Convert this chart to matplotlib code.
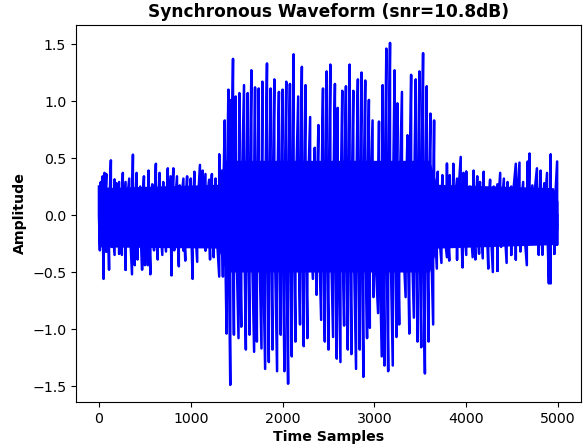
import numpy as np
import matplotlib
matplotlib.use("Agg")
import matplotlib.pyplot as plt

# positive peaks
top_x = [0, 20, 40, 60, 80, 100, 130, 170, 190, 220, 260, 290, 330, 370, 410, 450, 490, 540, 580, 620,
         660, 700, 750, 780, 810, 850, 880, 920, 960, 1000, 1040, 1100, 1130, 1160, 1200, 1230, 1270, 1310, 1340, 1370,
         1410, 1440, 1460, 1490, 1530, 1580, 1620, 1660, 1700, 1740, 1780, 1830, 1870, 1910, 1960, 2000, 2040, 2080, 2120, 2170,
         2210, 2250, 2300, 2350, 2390, 2440, 2480, 2520, 2570, 2600, 2650, 2690, 2730, 2770, 2820, 2860, 2900, 2940, 2980, 3050,
         3090, 3130, 3170, 3220, 3250, 3300, 3360, 3400, 3450, 3490, 3530, 3570, 3610, 3650, 3690, 3740, 3790, 3820, 3860, 3900,
         3940, 3970, 4000, 4040, 4080, 4120, 4150, 4190, 4220, 4260, 4300, 4340, 4370, 4410, 4450, 4490, 4540, 4580, 4620, 4670,
         4690, 4720, 4770, 4810, 4850, 4880, 4920, 4960, 4990]
top_y = [.25, .29, .34, .37, .36, .23, .48, .31, .28, .29, .37, .29, .32, .53, .37, .25, .34, .39, .27, .45,
         .37, .29, .41, .34, .41, .34, .26, .32, .34, .32, .38, .44, .39, .36, .31, .36, .32, .53, .39, .83,
         1.10, 1.01, 1.37, 1.04, 1.07, 1.14, 1.07, 1.27, 1.12, 1.11, 1.17, 1.33, 1.11, 1.19, 1.08, 1.10, 1.17, 1.15, 1.41, 1.04,
         1.30, 1.14, .86, .59, .79, 1.11, 1.26, 1.32, 1.15, .94, 1.09, 1.13, 1.32, 1.09, 1.19, 1.25, 1.18, 1.01, .83, .82,
         1.14, 1.46, 1.51, 1.27, .98, 1.08, .70, 1.23, 1.19, 1.26, 1.42, 1.13, .89, .83, .38, .35, .45, .35, .45, .32,
         .51, .37, .38, .25, .39, .34, .29, .38, .22, .31, .25, .27, .37, .32, .29, .25, .45, .46, .29, .47,
         .54, .26, .41, .39, .28, .37, .53, .18, .47]

# negative peaks
bot_x = [10, 50, 80, 110, 140, 170, 220, 250, 290, 330, 360, 390, 420, 470, 500, 530, 560, 600, 640, 690,
         730, 790, 820, 870, 920, 940, 980, 1020, 1070, 1110, 1160, 1210, 1250, 1310, 1350, 1390, 1430, 1470, 1520, 1550,
         1600, 1640, 1690, 1720, 1770, 1810, 1850, 1890, 1940, 1980, 2020, 2060, 2100, 2140, 2190, 2230, 2270, 2330, 2370, 2420,
         2460, 2500, 2550, 2590, 2630, 2670, 2710, 2750, 2800, 2840, 2880, 2920, 2950, 2990, 3040, 3080, 3110, 3150, 3200, 3240,
         3270, 3340, 3380, 3430, 3470, 3510, 3550, 3590, 3640, 3680, 3730, 3790, 3815, 3850, 3900, 3960, 4000, 4070, 4100, 4140,
         4180, 4240, 4290, 4340, 4380, 4440, 4490, 4540, 4590, 4660, 4720, 4790, 4830, 4900, 4920, 4960, 4990]
bot_y = [-.31, -.56, -.32, -.48, -.28, -.35, -.34, -.35, -.48, -.22, -.52, -.44, -.39, -.48, -.44, -.44, -.52, -.31, -.39, -.35,
         -.32, -.53, -.31, -.45, -.31, -.40, -.26, -.56, -.41, -.28, -.31, -.39, -.37, -.54, -.54, -1.04, -1.49, -1.05, -1.08, -.98,
         -1.18, -1.05, -1.20, -1.11, -1.17, -1.35, -1.29, -1.18, -1.37, -1.05, -1.37, -1.48, -1.24, -1.11, -.96, -1.15, -1.08, -.56, -.70, -.92,
         -1.11, -1.18, -1.07, -1.26, -1.29, -.97, -1.18, -1.22, -1.35, -1.18, -1.42, -1.08, -.99, -.72, -.86, -1.24, -1.32, -1.37, -1.32, -1.07,
         -.96, -.72, -1.04, -.90, -1.11, -1.16, -1.39, -1.11, -.96, -.47, -.42, -.37, -.40, -.28, -.39, -.46, -.35, -.37, -.39, -.34,
         -.38, -.47, -.50, -.49, -.28, -.42, -.35, -.39, -.32, -.44, -.25, -.35, -.35, -.60, -.60, -.34, -.26]

# solid part around zero
core_x = [0, 1300, 1380, 3600, 3680, 4950, 5000]
core_hi = [.24, .27, .48, .48, .27, .24, .12]
core_lo = [-.28, -.29, -.50, -.50, -.29, -.26, -.12]

peak_x = np.array(top_x + bot_x)
peak_y = np.array(top_y + bot_y)
order = np.argsort(peak_x)
peak_x = peak_x[order]
peak_y = peak_y[order]

# every peak swings back through zero
wave_x = np.repeat(peak_x, 2)
wave_y = np.column_stack([peak_y, np.zeros(len(peak_y))]).ravel()

plt.rcParams["font.size"] = 10.2

fig = plt.figure(figsize=(5.88, 4.44), dpi=100)
ax = fig.add_axes([76 / 588, 1 - 402 / 444, 505 / 588, 377 / 444])
ax.fill_between(core_x, core_lo, core_hi, color="blue", lw=0)
ax.plot(wave_x, wave_y, color="blue", lw=1.8)
ax.set_xlim(-250, 5250)
ax.set_ylim(-1.64, 1.667)
ax.set_title("Synchronous Waveform (snr=10.8dB)", fontweight="bold", fontsize=12.25, pad=6)
ax.set_xlabel("Time Samples", fontweight="bold", labelpad=3)
ax.set_ylabel("Amplitude", fontweight="bold")
fig.savefig("out.png", dpi=100)
